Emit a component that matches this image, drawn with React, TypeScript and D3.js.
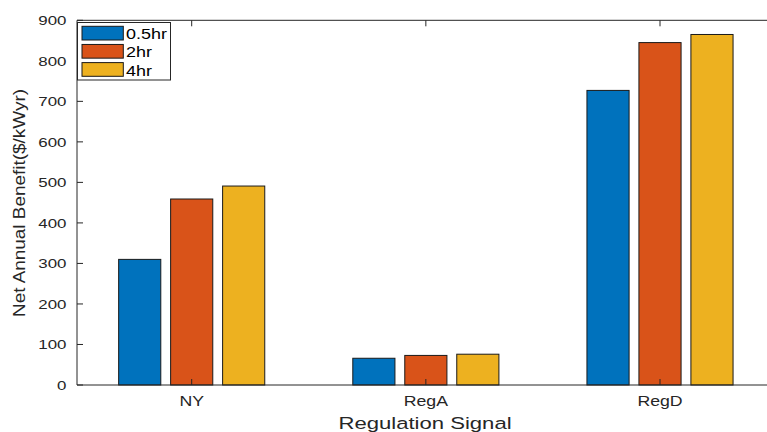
import React from "react";
import * as d3 from "d3";

const categories = ["NY", "RegA", "RegD"];
const seriesNames = ["0.5hr", "2hr", "4hr"];
const values0_5hr = [310, 66, 727];
const values2hr = [459, 73, 845];
const values4hr = [491, 76, 865];
const yTicks = [0, 100, 200, 300, 400, 500, 600, 700, 800, 900];
const colors = ["#0072BD", "#D95319", "#EDB120"];

const W = 767;
const H = 432;
const left = 77;
const top = 20.3;
const bottom = 385;

const font = "'Liberation Sans', Arial, Helvetica, sans-serif";
const textColor = "#262626";

function SText({
  x,
  y,
  sx,
  size,
  anchor = "start",
  fill = textColor,
  children,
}: {
  x: number;
  y: number;
  sx: number;
  size: number;
  anchor?: string;
  fill?: string;
  children: React.ReactNode;
}) {
  return (
    <text
      transform={`translate(${x},${y}) scale(${sx},1)`}
      fontSize={size}
      textAnchor={anchor}
      fill={fill}
    >
      {children}
    </text>
  );
}

export default function App() {
  const series = [values0_5hr, values2hr, values4hr];
  const x = d3.scaleLinear().domain([1, 3]).range([191.7, 660]);
  const y = d3.scaleLinear().domain([0, 900]).range([bottom, top]);
  const unit = x(1) - x(0);
  const barW = 0.18 * unit;
  const offsets = [-0.222, 0, 0.222];

  return (
    <svg width={W} height={H} style={{ position: "absolute", left: 0, top: 0 }} fontFamily={font}>
      <rect x={0} y={0} width={W} height={H} fill="#fff" />
      {series.map((vals, si) =>
        vals.map((v, ci) => {
          const cx = x(ci + 1 + offsets[si]);
          return (
            <rect
              key={`${si}-${ci}`}
              x={cx - barW / 2}
              y={y(v)}
              width={barW}
              height={y(0) - y(v)}
              fill={colors[si]}
              stroke="#1a1a1a"
              strokeWidth={1}
            />
          );
        })
      )}
      {/* axes */}
      <line x1={left} x2={W} y1={bottom} y2={bottom} stroke={textColor} strokeWidth={1} />
      <line x1={left} x2={W} y1={top} y2={top} stroke={textColor} strokeWidth={1} />
      <line x1={left} x2={left} y1={top} y2={bottom} stroke={textColor} strokeWidth={1} />
      {yTicks.map((t) => (
        <g key={t}>
          <line x1={left} x2={left + 6} y1={y(t)} y2={y(t)} stroke={textColor} />
          <SText x={66.5} y={y(t) + 5} sx={1.3} size={13} anchor="end">
            {t}
          </SText>
        </g>
      ))}
      {categories.map((c, i) => (
        <g key={c}>
          <line x1={x(i + 1)} x2={x(i + 1)} y1={bottom} y2={bottom - 6} stroke={textColor} />
          <line x1={x(i + 1)} x2={x(i + 1)} y1={top} y2={top + 6} stroke={textColor} />
          <SText x={x(i + 1)} y={405.5} sx={1.18} size={15} anchor="middle">
            {c}
          </SText>
        </g>
      ))}
      <SText x={425} y={429} sx={1.3} size={17} anchor="middle">
        Regulation Signal
      </SText>
      <text
        transform={`translate(25, 203) rotate(-90)`}
        textAnchor="middle"
        fontSize={16}
        fill={textColor}
        textLength={228}
        lengthAdjust="spacingAndGlyphs"
      >
        Net Annual Benefit($/kWyr)
      </text>
      {/* legend */}
      <rect x={77.5} y={22.5} width={93} height={57.5} fill="#fff" stroke="#262626" strokeWidth={1} />
      {seriesNames.map((n, i) => (
        <g key={n}>
          <rect x={82} y={26.3 + i * 18.15} width={41.3} height={13.7} fill={colors[i]} stroke="#1a1a1a" />
          <SText x={126} y={39.3 + i * 18.15} sx={1.24} size={14.5} fill="#000">
            {n}
          </SText>
        </g>
      ))}
    </svg>
  );
}
